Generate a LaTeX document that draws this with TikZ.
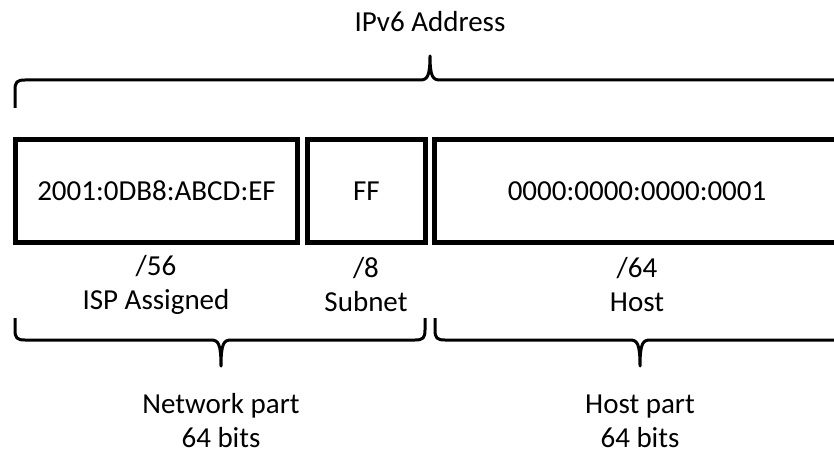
\documentclass[tikz,border=0pt]{standalone}
\usepackage{fontspec}
\setmainfont{Carlito}
\begin{document}
\begin{tikzpicture}[x=1pt,y=-1pt,
  field/.style={draw, line width=5pt, inner sep=0pt, minimum height=102pt,
                font=\fontsize{29}{34}\selectfont},
  lbl/.style={font=\fontsize{29}{34}\selectfont, align=center, inner sep=0pt},
  brc/.style={line width=3pt, line join=round, line cap=butt}]
\useasboundingbox (0,0) rectangle (834,454);
\clip (0,0) rectangle (834,454);

% title
\node[lbl] (title) at (430,22) {IPv6 Address};

% address fields
\node[field, minimum width=282pt] (isp)  at (156.5,191) {2001:0DB8:ABCD:EF};
\node[field, minimum width=118pt] (sub)  at (366.5,191) {FF};
\node[field, minimum width=405pt] (host) at (637,191)   {0000:0000:0000:0001};

% prefix lengths
\node[lbl] (ispl)  at (156,285) {/56\\ISP Assigned};
\node[lbl] (subl)  at (366,285) {/8\\Subnet};
\node[lbl] (hostl) at (637,285) {/64\\Host};

% whole-address brace
\draw[brc] (15,108) -- (15,90) .. controls (15,82) and (17,80) .. (25,80)
  -- (420,80) .. controls (427,80) and (430,77) .. (430,56)
  .. controls (430,77) and (433,80) .. (440,80) -- (850,80);

% network-part brace
\draw[brc] (15,318) -- (15,330) .. controls (15,338) and (17,340) .. (25,340)
  -- (211,340) .. controls (218,340) and (221,343) .. (221,366)
  .. controls (221,343) and (224,340) .. (231,340)
  -- (415,340) .. controls (423,340) and (425,338) .. (425,330) -- (425,318);

% host-part brace
\draw[brc] (435,318) -- (435,330) .. controls (435,338) and (437,340) .. (445,340)
  -- (630,340) .. controls (637,340) and (640,343) .. (640,366)
  .. controls (640,343) and (643,340) .. (650,340) -- (850,340);

% part labels
\node[lbl] (net)  at (221,421) {Network part\\64 bits};
\node[lbl] (hpart) at (640,421) {Host part\\64 bits};
\end{tikzpicture}
\end{document}
